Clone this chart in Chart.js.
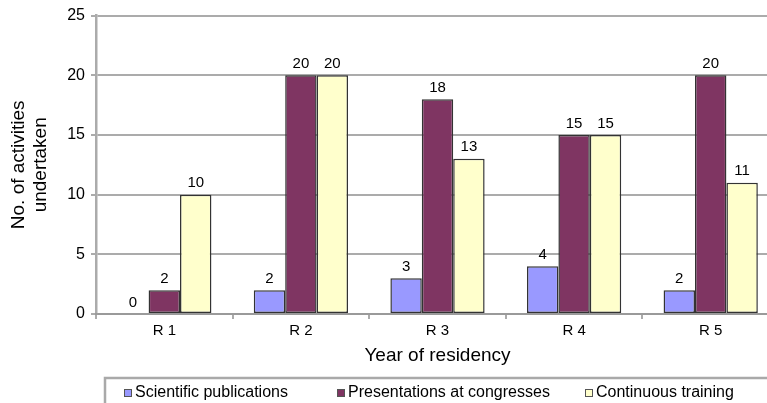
<!DOCTYPE html>
<html>
<head>
<meta charset="utf-8">
<script src="https://cdn.jsdelivr.net/npm/chart.js@4/dist/chart.umd.min.js"></script>
<style>
  html, body { margin: 0; padding: 0; background: #fff; overflow: hidden; }
  #wrap { position: relative; width: 780px; height: 403px; }
</style>
</head>
<body>
<div id="wrap"><canvas id="chart"></canvas></div>
<script>
// Activities per year of residency
const categories = ['R 1', 'R 2', 'R 3', 'R 4', 'R 5'];
const seriesNames = ['Scientific publications', 'Presentations at congresses', 'Continuous training'];
const scientificPublications = [0, 2, 3, 4, 2];
const congressPresentations = [2, 20, 18, 15, 20];
const continuousTraining = [10, 20, 13, 15, 11];
const yTicks = [0, 5, 10, 15, 20, 25];

const FONT = '"Liberation Sans", Arial, Helvetica, sans-serif';
const GRID = 'rgba(150,150,150,0.8)';
const colors = ['#9999ff', '#7f3562', '#ffffcc'];

// Value labels drawn above each bar
const valueLabels = {
  id: 'valueLabels',
  afterDatasetsDraw(chart) {
    const ctx = chart.ctx;
    ctx.save();
    ctx.font = '15px ' + FONT;
    ctx.fillStyle = '#000';
    ctx.textAlign = 'center';
    ctx.textBaseline = 'bottom';
    chart.data.datasets.forEach((ds, i) => {
      chart.getDatasetMeta(i).data.forEach((bar, j) => {
        ctx.fillText(String(ds.data[j]), bar.x, bar.y - 4);
      });
    });
    ctx.restore();
  }
};

// Boxed legend along the bottom edge
const boxedLegend = {
  id: 'boxedLegend',
  afterDraw(chart, args, opts) {
    const ctx = chart.ctx;
    ctx.save();
    ctx.strokeStyle = 'rgba(160,160,160,0.9)';
    ctx.lineWidth = 2.5;
    ctx.strokeRect(opts.boxLeft, opts.boxTop, chart.width + 20, 60);
    ctx.font = '16px ' + FONT;
    ctx.textBaseline = 'middle';
    ctx.textAlign = 'left';
    chart.data.datasets.forEach((ds, i) => {
      const x = opts.itemX[i];
      const y = opts.itemY;
      ctx.fillStyle = ds.backgroundColor;
      ctx.strokeStyle = '#555';
      ctx.lineWidth = 1;
      ctx.fillRect(x, y - 4, 8, 8);
      ctx.strokeRect(x + 0.5, y - 3.5, 7, 7);
      ctx.fillStyle = '#000';
      ctx.fillText(ds.label, x + 11, y);
    });
    ctx.restore();
  }
};

new Chart(document.getElementById('chart'), {
  type: 'bar',
  data: {
    labels: categories,
    datasets: [
      { label: seriesNames[0], data: scientificPublications, backgroundColor: colors[0] },
      { label: seriesNames[1], data: congressPresentations, backgroundColor: colors[1] },
      { label: seriesNames[2], data: continuousTraining, backgroundColor: colors[2] }
    ].map(d => Object.assign(d, {
      borderColor: '#333',
      borderWidth: 1.5,
      borderSkipped: false,
      categoryPercentage: 0.69,
      barPercentage: 1.0
    }))
  },
  options: {
    responsive: true,
    maintainAspectRatio: false,
    animation: false,
    devicePixelRatio: 1,
    layout: { padding: { left: 0, right: 1, top: 15, bottom: 25 } },
    plugins: {
      legend: { display: false },
      tooltip: { enabled: false },
      boxedLegend: { boxLeft: 105, boxTop: 378, itemX: [124, 337, 585], itemY: 393 }
    },
    scales: {
      x: {
        afterFit(scale) { scale.height = 64; },
        grid: { display: true, drawOnChartArea: false, drawTicks: true, tickLength: 5, color: GRID, lineWidth: 2, offset: true },
        border: { display: true, color: GRID, width: 2 },
        ticks: { color: '#000', font: { family: FONT, size: 15 }, padding: 3 },
        title: { display: true, text: 'Year of residency', color: '#000', font: { family: FONT, size: 19 }, padding: { top: 0, bottom: 11 } }
      },
      y: {
        min: 0,
        max: 25,
        afterFit(scale) { scale.width = 96; },
        afterBuildTicks(scale) { scale.ticks = yTicks.map(v => ({ value: v })); },
        grid: { color: GRID, lineWidth: 2, tickLength: 5, drawTicks: true },
        border: { display: true, color: GRID, width: 2.5 },
        ticks: { color: '#000', font: { family: FONT, size: 16 }, padding: 6 },
        title: { display: true, text: ['No. of activities', 'undertaken'], color: '#000', font: { family: FONT, size: 19 }, padding: { top: 7, bottom: 0 } }
      }
    }
  },
  plugins: [valueLabels, boxedLegend]
});
</script>
</body>
</html>
